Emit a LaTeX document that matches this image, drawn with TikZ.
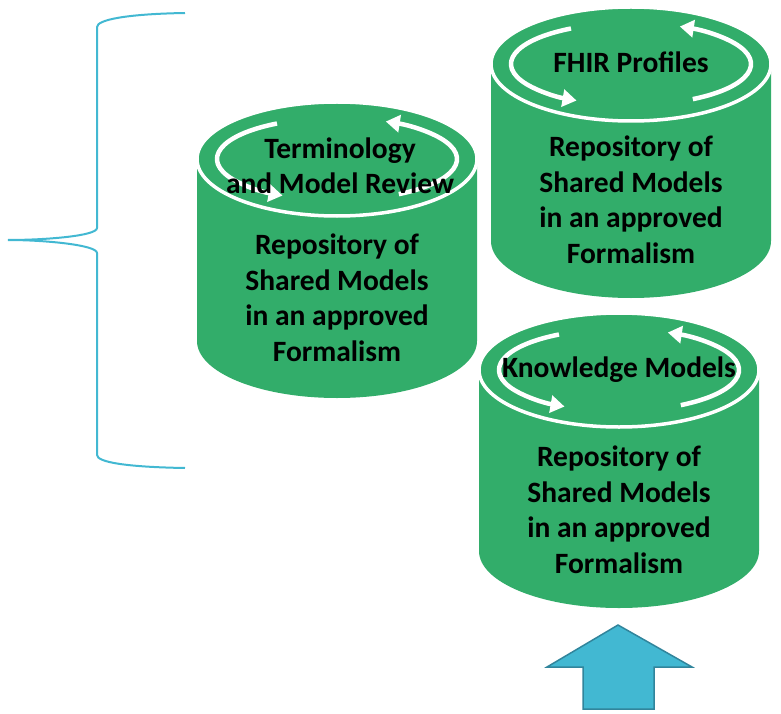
\documentclass[tikz,border=0pt]{standalone}
\usepackage{fontspec}
\setmainfont{Carlito}
\usetikzlibrary{arrows.meta}

\definecolor{repogreen}{RGB}{50,173,106}
\definecolor{bracecyan}{RGB}{66,184,210}
\definecolor{arrowedge}{RGB}{49,133,156}

\begin{document}
\begin{tikzpicture}[x=1pt,y=-1pt]

\tikzstyle{repo}=[fill=repogreen]
\tikzstyle{rim}=[draw=white,line width=3.5pt]
\tikzstyle{turn}=[draw=white,line width=4.5pt,-{Triangle[width=17pt,length=14pt]}]
\tikzstyle{repotext}=[font=\bfseries\fontsize{29.5}{35.5}\selectfont,align=center,inner sep=0pt]
\tikzstyle{brace}=[draw=bracecyan,line width=2pt]

\useasboundingbox (0,0) rectangle (781,714);

\foreach \cx/\ty/\by in {631/64/241, 619/370/551, 337/159/341} {
    \fill[repo] (\cx-140,\ty) -- (\cx-140,\by)
        arc[start angle=180,end angle=0,x radius=140,y radius=57]
        -- (\cx+140,\ty) -- cycle;
    \fill[repo] (\cx,\ty) ellipse [x radius=140,y radius=57];
    \draw[rim] (\cx,\ty) ellipse [x radius=140,y radius=57];
    \draw[turn] (\cx,\ty) ++(-120:120 and 41)
        arc[start angle=-120,end angle=-243,x radius=120,y radius=41];
    \draw[turn] (\cx,\ty) ++(59:120 and 41)
        arc[start angle=59,end angle=-66,x radius=120,y radius=41];
}

\node[repotext] (termtitle) at (340,166) {Terminology\\and Model Review};
\node[repotext] (termbody) at (337,298) {Repository of\\Shared Models\\in an approved\\Formalism};
\node[repotext] (fhirtitle) at (631,62) {FHIR Profiles};
\node[repotext] (fhirbody) at (631,200) {Repository of\\Shared Models\\in an approved\\Formalism};
\node[repotext] (knowtitle) at (619,370) {Knowledge Models};
\node[repotext] (knowbody) at (619,510) {Repository of\\Shared Models\\in an approved\\Formalism};

\draw[brace] (185,13) .. controls (125,14) and (97,20) .. (97,27)
    -- (97,228) .. controls (97,236) and (45,240) .. (8,240)
    .. controls (45,240) and (97,245) .. (97,253)
    -- (97,455) .. controls (97,462) and (125,467) .. (185,468);

\filldraw[fill=bracecyan,draw=arrowedge,line width=1.5pt]
    (618,625) -- (692,667) -- (654,667) -- (654,709)
    -- (583,709) -- (583,667) -- (547,667) -- cycle;

\end{tikzpicture}
\end{document}
